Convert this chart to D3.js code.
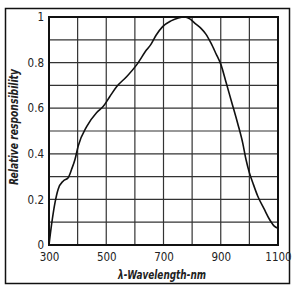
<!DOCTYPE html>
<html lang="en">
<head>
  <meta charset="UTF-8" />
  <title>Relative responsibility vs wavelength</title>
  <script src="https://d3js.org/d3.v7.min.js"></script>
  <style>
    body { margin: 0; background: white; }
    svg text { font-family: "Liberation Sans Narrow", "DejaVu Sans Condensed", sans-serif; fill: #222; }
  </style>
</head>
<body>
<svg id="chart" width="302" height="292"></svg>
<script>
// Data
const wavelength = [300, 309, 321, 332, 350, 367, 379, 391, 402, 432, 466, 489, 512, 536, 571, 606, 641, 656, 674, 697, 726, 752, 773, 792, 810, 831, 848, 866, 883, 901, 918, 936, 959, 977, 988, 1000, 1012, 1029, 1052, 1070, 1087, 1100];
const response   = [0, 0.09, 0.186, 0.245, 0.281, 0.295, 0.332, 0.376, 0.434, 0.52, 0.58, 0.607, 0.65, 0.694, 0.738, 0.79, 0.856, 0.88, 0.92, 0.958, 0.983, 0.996, 1.0, 0.992, 0.972, 0.95, 0.925, 0.885, 0.84, 0.79, 0.716, 0.636, 0.534, 0.446, 0.376, 0.317, 0.273, 0.215, 0.157, 0.113, 0.083, 0.073];
const xTicks = [300, 500, 700, 900, 1100];
const yTicks = [0, 0.2, 0.4, 0.6, 0.8, 1];

const svg = d3.select("#chart");
const m = { left: 49, right: 278, top: 17, bottom: 245 };

const x = d3.scaleLinear().domain([300, 1100]).range([m.left, m.right]);
const y = d3.scaleLinear().domain([0, 1]).range([m.bottom, m.top]);

// outer frame
svg.append("rect")
  .attr("x", 5.5).attr("y", 8.5).attr("width", 284).attr("height", 275)
  .attr("fill", "none").attr("stroke", "#111").attr("stroke-width", 1.5);

// grid
svg.append("g")
  .selectAll("line")
  .data(d3.range(300, 1101, 100))
  .enter().append("line")
  .attr("x1", d => x(d)).attr("x2", d => x(d))
  .attr("y1", m.top).attr("y2", m.bottom)
  .attr("stroke", "#333").attr("stroke-width", 1.2);

svg.append("g")
  .selectAll("line")
  .data(d3.range(0, 11).map(d => d / 10))
  .enter().append("line")
  .attr("y1", d => y(d)).attr("y2", d => y(d))
  .attr("x1", m.left).attr("x2", m.right)
  .attr("stroke", "#333").attr("stroke-width", 1.2);

// plot frame
svg.append("rect")
  .attr("x", m.left).attr("y", m.top).attr("width", m.right - m.left).attr("height", m.bottom - m.top)
  .attr("fill", "none").attr("stroke", "#111").attr("stroke-width", 2);

// axes labels
const xAxis = svg.append("g")
  .attr("transform", `translate(0,${m.bottom})`)
  .call(d3.axisBottom(x).tickValues(xTicks).tickSize(0).tickPadding(8).tickFormat(d3.format("d")));
xAxis.select(".domain").remove();
xAxis.selectAll("text").attr("font-size", 11.5).attr("font-family", null);

const yAxis = svg.append("g")
  .attr("transform", `translate(${m.left},0)`)
  .call(d3.axisLeft(y).tickValues(yTicks).tickSize(0).tickPadding(5).tickFormat(d => d === 0 || d === 1 ? d : d3.format(".1f")(d)));
yAxis.select(".domain").remove();
yAxis.selectAll("text").attr("font-size", 11.5).attr("font-family", null);

// curve
const line = d3.line()
  .x((d, i) => x(wavelength[i]))
  .y(d => y(d))
  .curve(d3.curveMonotoneX);

svg.append("path")
  .datum(response)
  .attr("d", line)
  .attr("fill", "none")
  .attr("stroke", "#111")
  .attr("stroke-width", 1.6);

// titles
svg.append("text")
  .attr("x", 162).attr("y", 279)
  .attr("text-anchor", "middle")
  .attr("font-size", 12.5).attr("font-style", "italic").attr("font-weight", "bold")
  .attr("textLength", 88).attr("lengthAdjust", "spacingAndGlyphs")
  .text("λ-Wavelength-nm");

svg.append("text")
  .attr("transform", "translate(18,127) rotate(-90)")
  .attr("text-anchor", "middle")
  .attr("font-size", 12.5).attr("font-style", "italic").attr("font-weight", "bold")
  .attr("textLength", 116).attr("lengthAdjust", "spacingAndGlyphs")
  .text("Relative responsibility");
</script>
</body>
</html>
